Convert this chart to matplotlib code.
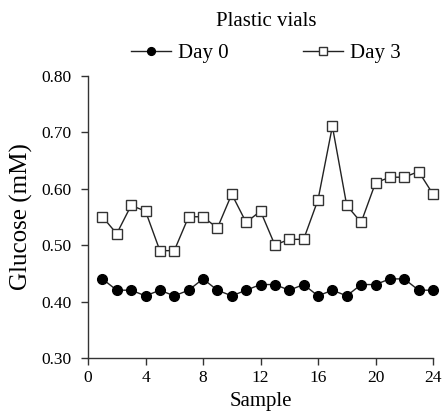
import matplotlib
matplotlib.use("Agg")
import matplotlib.pyplot as plt

samples = list(range(1, 25))
day0 = [0.44, 0.42, 0.42, 0.41, 0.42, 0.41, 0.42, 0.44, 0.42, 0.41, 0.42, 0.43,
        0.43, 0.42, 0.43, 0.41, 0.42, 0.41, 0.43, 0.43, 0.44, 0.44, 0.42, 0.42]
day3 = [0.55, 0.52, 0.57, 0.56, 0.49, 0.49, 0.55, 0.55, 0.53, 0.59, 0.54, 0.56,
        0.50, 0.51, 0.51, 0.58, 0.71, 0.57, 0.54, 0.61, 0.62, 0.62, 0.63, 0.59]
xticks = [0, 4, 8, 12, 16, 20, 24]
yticks = [0.30, 0.40, 0.50, 0.60, 0.70, 0.80]

plt.rcParams['font.family'] = ['Liberation Serif', 'DejaVu Serif']

fig = plt.figure(figsize=(4.46, 4.13), dpi=100)
ax = fig.add_axes([88/446, 1 - 358/413, (433-88)/446, (358-75.5)/413])

col = '#222222'
l0, = ax.plot(samples, day0, '-o', color=col, lw=1.0, markersize=7,
              markerfacecolor='black', markeredgecolor='black', label='Day 0', clip_on=False)
l3, = ax.plot(samples, day3, '-s', color=col, lw=1.0, markersize=7,
              markerfacecolor='white', markeredgecolor='#333333', markeredgewidth=1.0,
              label='Day 3', clip_on=False)

ax.set_xlim(0, 24)
ax.set_ylim(0.30, 0.80)
ax.set_xticks(xticks)
ax.set_yticks(yticks)
ax.set_yticklabels([f"{v:.2f}" for v in yticks])
ax.tick_params(axis='both', direction='out', length=5, width=1, color='#333333',
               labelsize=12.5)
ax.tick_params(axis='x', pad=4)
ax.tick_params(axis='y', pad=7)
for s in ['top', 'right']:
    ax.spines[s].set_visible(False)
for s in ['left', 'bottom']:
    ax.spines[s].set_color('#333333')
    ax.spines[s].set_linewidth(1.0)

ax.set_xlabel('Sample', fontsize=15, labelpad=4)
ax.set_ylabel('Glucose (mM)', fontsize=18, labelpad=6)

fig.text(266/446, 1 - 22/413, 'Plastic vials', ha='center', va='center', fontsize=15)
fig.legend(handles=[l0, l3], loc='center', bbox_to_anchor=(266/446, 1 - 53/413),
           ncol=2, frameon=False, fontsize=15, handlelength=1.9, handletextpad=0.35,
           columnspacing=3.6, markerscale=0.8, borderpad=0)

fig.savefig('out.png', dpi=100)
